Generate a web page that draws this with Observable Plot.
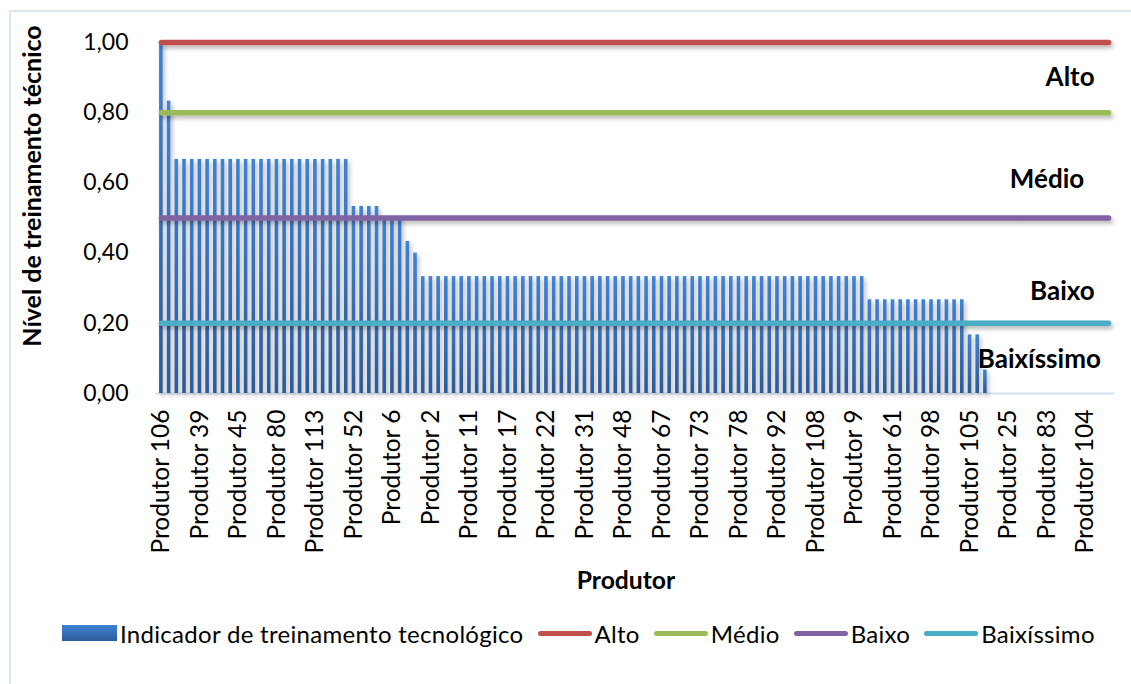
<!DOCTYPE html>
<html>
<head>
<meta charset="utf-8">
<script src="https://cdn.jsdelivr.net/npm/d3@7"></script>
<script src="https://cdn.jsdelivr.net/npm/@observablehq/plot@0.6"></script>
<style>
  html, body { margin: 0; padding: 0; background: #fff; }
  #wrap { position: relative; width: 1131px; height: 684px; overflow: hidden; font-family: Lato, "Open Sans", sans-serif; color: #000; }
  #frame { position: absolute; left: 9px; top: 10px; width: 1200px; height: 800px; border-left: 2px solid #dce6f2; border-top: 2px solid #dce6f2; }
  #chart { position: absolute; left: 0; top: 0; }
  .ytitle { position: absolute; left: 31px; top: 186px; transform: translate(-50%, -50%) rotate(-90deg); white-space: nowrap; font-weight: 700; font-size: 25px; }
  .xtitle { position: absolute; left: 626px; top: 579px; transform: translate(-50%, -50%); white-space: nowrap; font-weight: 700; font-size: 24.7px; }
  #legend { position: absolute; left: 62px; top: 621px; height: 24px; display: flex; align-items: center; font-size: 24px; letter-spacing: 0.3px; white-space: nowrap; }
  .sw-bar { width: 55px; height: 16px; background: linear-gradient(#3e80d2, #2d5d9b); margin-right: 3px; }
  .sw-line { width: 54px; height: 5px; border-radius: 3px; margin-right: 3px; margin-left: 14px; }
</style>
</head>
<body>
<svg width="0" height="0" style="position:absolute">
  <defs>
    <linearGradient id="barGrad" x1="0" y1="0" x2="0" y2="1">
      <stop offset="0" stop-color="#3f82d4"/>
      <stop offset="1" stop-color="#2c5b98"/>
    </linearGradient>
    <filter id="shadow" x="-20%" y="-20%" width="160%" height="160%">
      <feDropShadow dx="2" dy="3" stdDeviation="2" flood-color="#000" flood-opacity="0.28"/>
    </filter>
  </defs>
</svg>
<div id="wrap">
  <div id="frame"></div>
  <div id="chart"></div>
  <div class="ytitle">Nível de treinamento técnico</div>
  <div class="xtitle">Produtor</div>
  <div id="legend"></div>
</div>
<script>
// Indicator value per product (ordered as in the chart, 124 products)
const indicador = [
  1.000, 0.833,
  0.667, 0.667, 0.667, 0.667, 0.667, 0.667, 0.667, 0.667, 0.667, 0.667,
  0.667, 0.667, 0.667, 0.667, 0.667, 0.667, 0.667, 0.667, 0.667, 0.667,
  0.667, 0.667, 0.667,
  0.533, 0.533, 0.533, 0.533,
  0.500, 0.500, 0.500,
  0.433, 0.400,
  0.333, 0.333, 0.333, 0.333, 0.333, 0.333, 0.333, 0.333, 0.333, 0.333,
  0.333, 0.333, 0.333, 0.333, 0.333, 0.333, 0.333, 0.333, 0.333, 0.333,
  0.333, 0.333, 0.333, 0.333, 0.333, 0.333, 0.333, 0.333, 0.333, 0.333,
  0.333, 0.333, 0.333, 0.333, 0.333, 0.333, 0.333, 0.333, 0.333, 0.333,
  0.333, 0.333, 0.333, 0.333, 0.333, 0.333, 0.333, 0.333, 0.333, 0.333,
  0.333, 0.333, 0.333, 0.333, 0.333, 0.333, 0.333, 0.333,
  0.267, 0.267, 0.267, 0.267, 0.267, 0.267, 0.267, 0.267, 0.267, 0.267,
  0.267, 0.267, 0.267,
  0.167, 0.167, 0.067,
  0, 0, 0, 0, 0, 0, 0, 0, 0, 0, 0, 0, 0, 0, 0, 0
];

// Tick labels shown on the x axis (every 5th product)
const tickLabels = [
  "Produtor 106", "Produtor 39", "Produtor 45", "Produtor 80", "Produtor 113",
  "Produtor 52", "Produtor 6", "Produtor 2", "Produtor 11", "Produtor 17",
  "Produtor 22", "Produtor 31", "Produtor 48", "Produtor 67", "Produtor 73",
  "Produtor 78", "Produtor 92", "Produtor 108", "Produtor 9", "Produtor 61",
  "Produtor 98", "Produtor 105", "Produtor 25", "Produtor 83", "Produtor 104"
];
const tickStep = 5;

// Reference level series
const levelNames = ["Alto", "Médio", "Baixo", "Baixíssimo"];
const levelValues = [1.0, 0.8, 0.5, 0.2];
const levelColors = ["#c0504d", "#9bbb59", "#8064a2", "#4bacc6"];

// Zone annotations (label, product index, level)
const zoneLabels = ["Alto", "Médio", "Baixo", "Baixíssimo"];
const zoneX = [118, 115, 117, 114];
const zoneY = [0.9, 0.61, 0.29, 0.095];

const yTicks = [0, 0.2, 0.4, 0.6, 0.8, 1.0];

const idx = indicador.map((_, i) => i);
const bars = indicador.map((v, i) => ({i, v}));
const lineData = levelNames.flatMap((name, k) => idx.map(i => ({i, name, v: levelValues[k]})));
const zones = zoneLabels.map((t, k) => ({t, x: zoneX[k], y: zoneY[k]}));
const fmt = d => d3.format(".2f")(d).replace(".", ",");

const plot = Plot.plot({
  width: 1131,
  height: 600,
  marginTop: 42,
  marginBottom: 207,
  marginLeft: 155,
  marginRight: 17,
  style: {fontFamily: "Lato, 'Open Sans', sans-serif", fontSize: "23px", color: "#000", background: "transparent"},
  x: {type: "band", domain: idx, padding: 0.53},
  y: {domain: [0, 1]},
  color: {domain: levelNames, range: levelColors},
  marks: [
    Plot.ruleY([0], {stroke: "#d6e1ee", strokeWidth: 2}),
    Plot.barY(bars, {x: "i", y: "v", fill: "url(#barGrad)"}),
    Plot.lineY(lineData, {x: "i", y: "v", z: "name", stroke: "name", strokeWidth: 5.5, strokeLinecap: "round"}),
    Plot.axisY({ticks: yTicks, tickFormat: fmt, tickSize: 0, tickPadding: 27, label: null}),
    Plot.axisX({ticks: idx.filter(i => i % tickStep === 0), tickFormat: i => tickLabels[i / tickStep], tickRotate: -90, tickSize: 0, tickPadding: 16, fontSize: 24.5, label: null}),
    Plot.text(zones, {text: "t", x: "x", y: "y", textAnchor: "middle", fontWeight: "bold", fontSize: 26})
  ]
});
d3.select(plot).selectAll('g[aria-label="bar"], g[aria-label="line"]').attr("filter", "url(#shadow)");
document.getElementById("chart").appendChild(plot);

// Legend
const legend = d3.select("#legend");
const item0 = legend.append("div").style("display", "flex").style("align-items", "center");
item0.append("div").attr("class", "sw-bar");
item0.append("span").text("Indicador de treinamento tecnológico");
levelNames.forEach((name, k) => {
  const it = legend.append("div").style("display", "flex").style("align-items", "center");
  it.append("div").attr("class", "sw-line").style("background", levelColors[k]);
  it.append("span").text(name);
});
</script>
</body>
</html>
